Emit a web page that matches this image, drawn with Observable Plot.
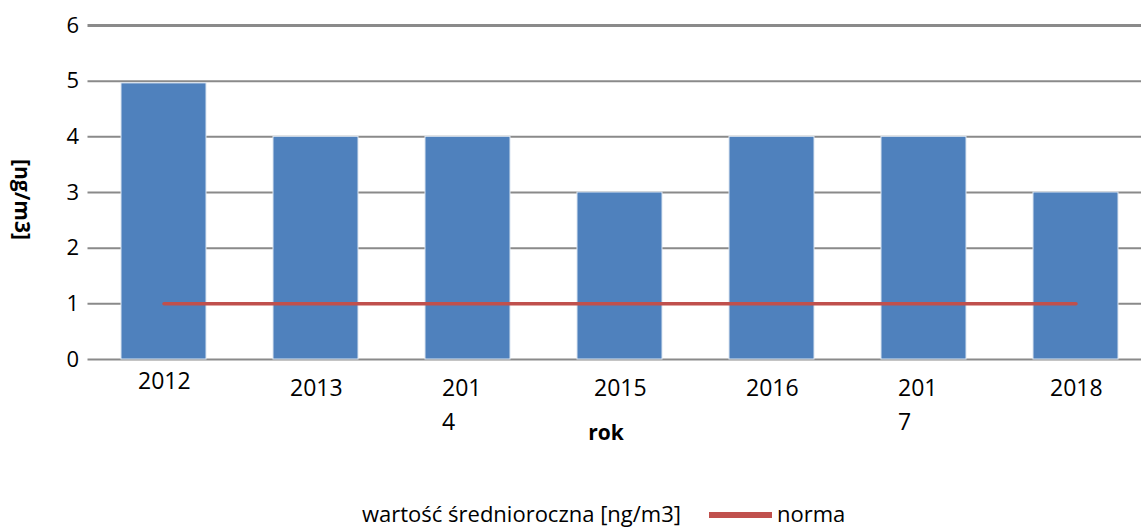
<!DOCTYPE html>
<html>
<head>
<meta charset="utf-8">
<script src="https://cdn.jsdelivr.net/npm/d3@7"></script>
<script src="https://cdn.jsdelivr.net/npm/@observablehq/plot@0.6"></script>
<style>
  html, body { margin: 0; padding: 0; background: #fff; }
  body { width: 1141px; height: 528px; position: relative; overflow: hidden; font-family: "Open Sans", sans-serif; }
  #legend { position: absolute; left: 0; top: 499px; width: 1141px; height: 29px; font-size: 22px; color: #000; }
  #legend .item { position: absolute; top: 0; white-space: nowrap; line-height: 29px; }
  #legend .sw { position: absolute; top: 13px; width: 63px; height: 6px; background: #c0504d; }
</style>
</head>
<body>
<div id="chart"></div>
<div id="legend">
  <span class="item" style="left:362px">wartość średnioroczna [ng/m3]</span>
  <span class="sw" style="left:709px"></span>
  <span class="item" style="left:777px">norma</span>
</div>
<script>
const years = ["2012", "2013", "2014", "2015", "2016", "2017", "2018"];
const tickLabels = ["2012", "2013", "201\n4", "2015", "2016", "201\n7", "2018"];
const annualMean = [4.96, 4, 4, 3, 4, 4, 3];
const norm = [1, 1, 1, 1, 1, 1, 1];
const yTicks = [0, 1, 2, 3, 4, 5, 6];

const data = years.map((y, i) => ({year: y, label: tickLabels[i], value: annualMean[i], norm: norm[i]}));

const chart = Plot.plot({
  width: 1141,
  height: 499,
  marginLeft: 87.5,
  marginRight: 0,
  marginTop: 25,
  marginBottom: 140,
  style: {fontFamily: "Open Sans, sans-serif", fontSize: "22px", color: "#000", background: "#fff"},
  x: {domain: years, range: [86.25, 1153.75], paddingInner: 0.44, paddingOuter: 0.22, axis: null},
  y: {domain: [0, 6], ticks: yTicks, axis: null},
  marks: [
    Plot.ruleY(yTicks.filter(d => d < 6), {stroke: "#8a8a8a", strokeWidth: 2}),
    Plot.ruleY([6], {stroke: "#8a8a8a", strokeWidth: 3}),
    Plot.barY(data, {x: "year", y: "value", fill: "#4f81bd", stroke: "#dbe5f1", strokeWidth: 1}),
    Plot.line(data, {x: "year", y: "norm", stroke: "#c0504d", strokeWidth: 3.5}),
    Plot.axisY({ticks: yTicks, tickSize: 0, tickPadding: 9, fontSize: 22, tickFormat: d => String(d)}),
    Plot.text(data.slice(0, 1), {x: "year", text: "label", frameAnchor: "bottom", textAnchor: "start", lineAnchor: "top", dx: -26, dy: 6, fontSize: 23, lineHeight: 1.45}),
    Plot.text(data.slice(1), {x: "year", text: "label", frameAnchor: "bottom", textAnchor: "start", lineAnchor: "top", dx: -26, dy: 13, fontSize: 23, lineHeight: 1.45}),
    Plot.text(["rok"], {frameAnchor: "bottom-left", textAnchor: "middle", lineAnchor: "bottom", dx: 605.5 - 87.5, dy: 80, fontSize: 21, fontWeight: "bold"}),
    Plot.text(["[ng/m3]"], {frameAnchor: "left", textAnchor: "middle", lineAnchor: "middle", rotate: 90, dx: -66.5, dy: 7, fontSize: 21, fontWeight: "bold"})
  ]
});
document.getElementById("chart").appendChild(chart);
</script>
</body>
</html>
